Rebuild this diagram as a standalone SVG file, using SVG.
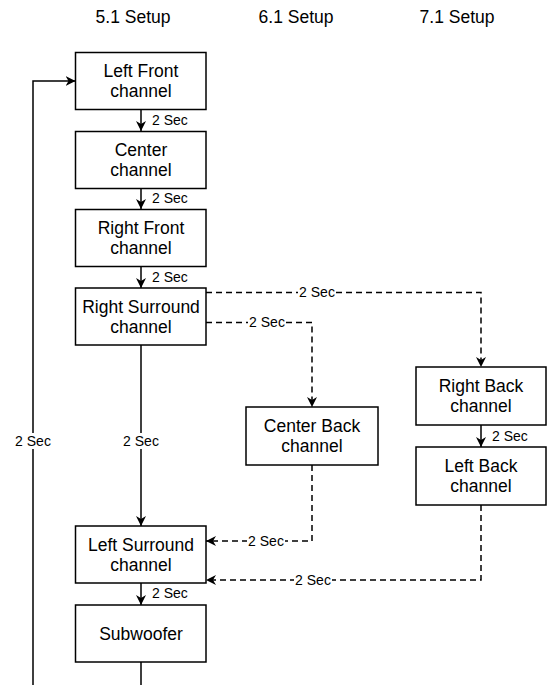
<svg xmlns="http://www.w3.org/2000/svg" width="550" height="685" viewBox="0 0 550 685">
<style>
.box{fill:#fff;stroke:#000;stroke-width:1.5}
.t{font-family:"Liberation Sans",Arial,sans-serif;font-size:17.5px;fill:#000;text-anchor:middle}
.l{font-family:"Liberation Sans",Arial,sans-serif;font-size:14px;fill:#000}
.c{text-anchor:middle}
.e{fill:none;stroke:#000;stroke-width:1.5}
.d{stroke-dasharray:6 4}
.bg{fill:#fff}
</style>
<defs>
<marker id="arr" viewBox="0 0 10 10" refX="10" refY="5" markerWidth="10" markerHeight="10" markerUnits="userSpaceOnUse" orient="auto">
<path d="M0,0 L10,5 L0,10 L3,5 Z" fill="#000"/>
</marker>
</defs>
<g id="headers">
<text class="t" x="133" y="23">5.1 Setup</text>
<text class="t" x="296" y="23">6.1 Setup</text>
<text class="t" x="457" y="23">7.1 Setup</text>
</g>
<g id="connectors">
<path class="e" d="M141,110 V131" marker-end="url(#arr)"/>
<path class="e" d="M141,188.5 V209" marker-end="url(#arr)"/>
<path class="e" d="M141,266.5 V288" marker-end="url(#arr)"/>
<path class="e" d="M141,345 V526" marker-end="url(#arr)"/>
<path class="e" d="M141,583 V605" marker-end="url(#arr)"/>
<path class="e" d="M141,662 V720 H33 V81 H75.5" marker-end="url(#arr)"/>
<path class="e" d="M481,425 V447" marker-end="url(#arr)"/>
<path class="e d" d="M206,292.5 H481 V367" marker-end="url(#arr)"/>
<path class="e d" d="M206,322.5 H312 V407" marker-end="url(#arr)"/>
<path class="e d" d="M312,465 V541 H206" marker-end="url(#arr)"/>
<path class="e d" d="M481,505 V580 H206" marker-end="url(#arr)"/>
<text class="l" x="152" y="125">2 Sec</text>
<text class="l" x="152" y="203">2 Sec</text>
<text class="l" x="152" y="282">2 Sec</text>
<text class="l" x="152" y="598">2 Sec</text>
<text class="l" x="492" y="441">2 Sec</text>
<rect class="bg" x="122" y="433" width="38" height="16"/>
<text class="l c" x="141" y="446">2 Sec</text>
<rect class="bg" x="14" y="433" width="38" height="16"/>
<text class="l c" x="33" y="446">2 Sec</text>
<rect class="bg" x="298" y="285" width="38" height="15"/>
<text class="l c" x="317" y="297">2 Sec</text>
<rect class="bg" x="248" y="315" width="38" height="15"/>
<text class="l c" x="267" y="327">2 Sec</text>
<rect class="bg" x="247" y="534" width="38" height="15"/>
<text class="l c" x="266" y="546">2 Sec</text>
<rect class="bg" x="294" y="573" width="38" height="15"/>
<text class="l c" x="313" y="585">2 Sec</text>
</g>
<g id="leftFront"><rect class="box" x="75.5" y="52.5" width="130.5" height="57"/><text class="t" x="141" y="77">Left Front</text><text class="t" x="141" y="97">channel</text></g>
<g id="center"><rect class="box" x="75.5" y="131.5" width="130.5" height="57"/><text class="t" x="141" y="156">Center</text><text class="t" x="141" y="176">channel</text></g>
<g id="rightFront"><rect class="box" x="75.5" y="209.5" width="130.5" height="57"/><text class="t" x="141" y="234">Right Front</text><text class="t" x="141" y="254">channel</text></g>
<g id="rightSurround"><rect class="box" x="75.5" y="288" width="130.5" height="57"/><text class="t" x="141" y="312.5">Right Surround</text><text class="t" x="141" y="332.5">channel</text></g>
<g id="leftSurround"><rect class="box" x="75.5" y="526" width="130.5" height="57"/><text class="t" x="141" y="550.5">Left Surround</text><text class="t" x="141" y="570.5">channel</text></g>
<g id="subwoofer"><rect class="box" x="75.5" y="605" width="130.5" height="57"/><text class="t" x="141" y="640">Subwoofer</text></g>
<g id="centerBack"><rect class="box" x="246" y="407" width="132" height="58"/><text class="t" x="312" y="432">Center Back</text><text class="t" x="312" y="452">channel</text></g>
<g id="rightBack"><rect class="box" x="416" y="367" width="130" height="58"/><text class="t" x="481" y="392">Right Back</text><text class="t" x="481" y="412">channel</text></g>
<g id="leftBack"><rect class="box" x="416" y="447" width="130" height="58"/><text class="t" x="481" y="472">Left Back</text><text class="t" x="481" y="492">channel</text></g>
</svg>
